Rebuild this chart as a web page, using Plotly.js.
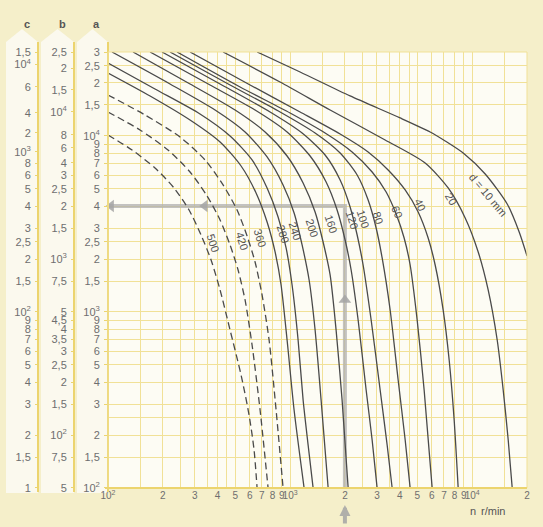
<!DOCTYPE html>
<html><head><meta charset="utf-8">
<script src="https://cdn.plot.ly/plotly-3.0.1.min.js"></script>
<style>html,body{margin:0;padding:0;background:#f5efca;}</style>
</head><body>
<div id="chart" style="width:543px;height:527px;"></div>
<script>
// ---------- data ----------
const diameters = [10, 20, 40, 60, 80, 100, 120, 160, 200, 240, 280, 360, 420, 500];
const n_d10  = [659, 1135, 2136, 4021, 5877, 7107, 8925, 11790, 15570, 18120, 20000];
const a_d10  = [30000, 23100, 16880, 12660, 10540, 9370, 8006, 6084, 4108, 2848, 2081];
const n_d20  = [428.5, 881, 1659, 3327, 5517, 7381, 9152, 10790, 12240, 13720, 14800, 15770, 16590];
const a_d20  = [30000, 20270, 14050, 9490, 7024, 5064, 3421, 2193, 1334, 693, 360.5, 187.4, 100];
const n_d40  = [282.2, 602.9, 1135, 1883, 2683, 3455, 4286, 5050, 5731, 6262, 6930, 7475, 7962, 8377];
const a_d40  = [30000, 19490, 13690, 10260, 8110, 6410, 4934, 3700, 2633, 1849, 1026, 533.7, 243.4, 100];
const n_d60  = [239.4, 531.4, 1000, 1557, 2191, 2822, 3369, 3823, 4230, 4564, 4987, 5447, 6029];
const a_d60  = [30000, 18980, 13510, 10400, 8110, 6245, 4807, 3604, 2633, 1849, 900.6, 360.5, 100];
const n_d80  = [219.1, 468.1, 881.2, 1372, 1883, 2335, 2683, 2969, 3203, 3544, 3921, 4286, 4564];
const a_d80  = [30000, 19490, 13690, 10400, 8006, 6003, 4329, 3001, 2027, 1026, 410.8, 187.4, 100];
const n_d100 = [198, 412.6, 776.5, 1164, 1557, 1883, 2136, 2335, 2518, 2787, 3123, 3412, 3635];
const a_d100 = [30000, 19750, 13690, 10400, 7798, 5623, 3950, 2738, 1849, 900.6, 360.5, 175.5, 100];
const n_d120 = [170.2, 363.5, 642.2, 962.7, 1288, 1577, 1812, 2005, 2164, 2364, 2616, 2822, 3006];
const a_d120 = [30000, 19490, 14050, 10540, 7697, 5478, 3798, 2565, 1732, 900.6, 360.5, 187.4, 100];
const n_d160 = [137.2, 282.2, 498.8, 729, 962.7, 1179, 1372, 1518, 1659, 1789, 1930, 2084];
const a_d160 = [30000, 19750, 14050, 10540, 7697, 5408, 3700, 2499, 1623, 790.2, 316.2, 100];
const n_d200 = [105.2, 219.1, 387.3, 565.9, 747.6, 915.1, 1052, 1164, 1272, 1372, 1480, 1618];
const a_d200 = [30000, 19750, 14050, 10540, 7598, 5268, 3652, 2403, 1520, 790.2, 316.2, 100];
const n_d240 = [100, 181.2, 320.2, 468.1, 618.3, 747.6, 859.2, 950.6, 1025.6, 1106.5, 1179, 1256, 1338];
const a_d240 = [25990, 18490, 13340, 10000, 7304, 5064, 3466, 2310, 1423, 693.4, 316.2, 175.5, 100];
const n_d280 = [100, 170.2, 282.2, 412.6, 538.1, 650.4, 747.6, 827.2, 892.3, 962.7, 1051.9, 1194];
const a_d280 = [22800, 16880, 12330, 9245, 6752, 4745, 3246, 2193, 1423, 693.4, 277.5, 100];
const n_d360 = [100, 159.7, 248.6, 341.2, 428.5, 511.6, 580.4, 642.2, 701.7, 766.8, 837.7, 915.1];
const a_d360 = [17100, 13160, 9870, 7304, 5268, 3798, 2703, 1923, 1249, 693.4, 277.5, 100];
const n_d420 = [100, 149.9, 213.6, 282.2, 349.9, 412.6, 468.1, 518.1, 565.9, 618.3, 684.2, 757.1];
const a_d420 = [13690, 10820, 8325, 6245, 4562, 3332, 2403, 1732, 1170, 649.3, 277.5, 100];
const n_d500 = [100, 135.5, 181.2, 230.5, 278.7, 324.3, 368.2, 412.6, 468.1, 538.1, 595.3, 634.2, 658.7];
const a_d500 = [10130, 8325, 6579, 5064, 3798, 2738, 1975, 1334, 790.2, 438.5, 259.8, 164.4, 100];

const curveN = [n_d10, n_d20, n_d40, n_d60, n_d80, n_d100, n_d120, n_d160, n_d200, n_d240, n_d280, n_d360, n_d420, n_d500];
const curveA = [a_d10, a_d20, a_d40, a_d60, a_d80, a_d100, a_d120, a_d160, a_d200, a_d240, a_d280, a_d360, a_d420, a_d500];
const dashedFrom = 360;

const labelText = ['d = 10 mm', '20', '40', '60', '80', '100', '120', '160', '200', '240', '280', '360', '420', '500'];
const labelN = [12240, 7666, 5181, 3872, 3045, 2518, 2191, 1680, 1321, 1065, 915.1, 684.2, 544.7, 377.5];
const labelA = [4622, 4385, 4055, 3700, 3421, 3376, 3332, 3162, 3001, 2886, 2775, 2633, 2532, 2466];
const labelAngle = [50, 60, 65, 68, 72, 72, 72, 72, 72, 72, 72, 72, 72, 72];

const xTickVals = [100,200,300,400,500,600,700,800,900,1000,2000,3000,4000,5000,6000,7000,8000,9000,10000,19990];
const xTickText = ['10<sup>2</sup>','2','3','4','5','6','7','8','9','10<sup>3</sup>','2','3','4','5','6','7','8','9','10<sup>4</sup>','2'];
const xMinorVals = [150,250,350,450,1500,2500,3500,4500,15000];

const aTickVals = [100.2,150,200,300,400,500,600,700,800,900,1000,1500,2000,2500,3000,4000,5000,6000,7000,8000,9000,10000,15000,20000,25000,29900];
const aTickText = ['10<sup>2</sup>','1,5','2','3','4','5','6','7','8','9','10<sup>3</sup>','1,5','2','2,5','3','4','5','6','7','8','9','10<sup>4</sup>','1,5','2','2,5','3'];
const aMinorVals = [250];

const bTickVals = [100.2,150,200,300,400,500,600,700,800,900,1000,1500,2000,3000,4000,5000,6000,7024,8546,10130,13690,18250,24330,29900];
const bTickText = ['5','7,5','10<sup>2</sup>','1,5','2','2,5','3','3,5','4','4,5','5','7,5','10<sup>3</sup>','1,5','2','2,5','3','4','6','8','10<sup>4</sup>','1,5','2','2,5'];

const cTickVals = [100.2,150,200,300,400,500,600,700,800,900,1000,1500,2000,2500,3000,4000,5000,6000,7020,8110,10400,13510,18990,25500,29900];
const cTickText = ['1','1,5','2','3','4','5','6','7','8','9','10<sup>2</sup>','1,5','2','2,5','3','4','5','6','8','10<sup>3</sup>','2','4','6','10<sup>4</sup>','1,5'];

// worked example (n = 2000 r/min -> a = 4000)
const exampleN = 2000, exampleA = 4000;
const arrowN = [2000, 340, 104];
const arrowA = [1170, 4000, 4000];

// ---------- layout helpers (pixels -> paper) ----------
const W = 543, H = 527, ML = 0, MR = 16, MT = 52, MB = 39;
const PW = W - ML - MR, PH = H - MT - MB;
const px = x => (x - ML) / PW;
const py = y => (H - MB - y) / PH;

const GRID = '#f1e197', AXIS = '#ecd46e', TXT = '#6e6e6e', CURVE = '#4a4a4a';
const GRAY = 'rgba(165,165,165,0.85)';
const FONT = 'Liberation Sans, Arial, sans-serif';

const traces = [];
traces.push({x:[exampleN, exampleN, 100], y:[100, exampleA, exampleA], mode:'lines',
  line:{color:'rgba(175,175,175,0.75)', width:4}, hoverinfo:'skip', showlegend:false});
traces.push({x:arrowN, y:arrowA, mode:'markers', cliponaxis:false,
  marker:{symbol:['triangle-up','triangle-left','triangle-left'], size:11, color:GRAY},
  hoverinfo:'skip', showlegend:false});

diameters.forEach((d, i) => {
  traces.push({x:curveN[i], y:curveA[i], mode:'lines', name:'d='+d,
    line:{color:CURVE, width:1.3, shape:'spline', smoothing:0.7, dash: d >= dashedFrom ? '7px,4px' : 'solid'},
    hoverinfo:'skip', showlegend:false});
});
traces.push({x:[1000], y:[1000], yaxis:'y2', mode:'markers', marker:{opacity:0}, hoverinfo:'skip', showlegend:false});
traces.push({x:[1000], y:[1000], yaxis:'y3', mode:'markers', marker:{opacity:0}, hoverinfo:'skip', showlegend:false});

const annotations = labelText.map((t, i) => ({
  x: Math.log10(labelN[i]), y: Math.log10(labelA[i]), xref:'x', yref:'y',
  text:t, showarrow:false, textangle:labelAngle[i],
  font:{family:FONT, size:11, color:'#555'}
}));
[['c',22],['b',57],['a',91]].forEach(([t, x]) => annotations.push({
  x:px(x), y:py(16), xref:'paper', yref:'paper', text:'<b>'+t+'</b>', showarrow:false,
  font:{family:FONT, size:11, color:'#555'}
}));
annotations.push({x:px(478), y:py(519), xref:'paper', yref:'paper', text:'n', showarrow:false,
  font:{family:FONT, size:11, color:'#555'}});
annotations.push({x:px(507), y:py(519), xref:'paper', yref:'paper', text:'r/min', showarrow:false,
  font:{family:FONT, size:11, color:'#555'}});
annotations.push({x:Math.log10(exampleN), xref:'x', y:py(505), yref:'paper', text:'', showarrow:true,
  ax:0, ay:20, arrowhead:2, arrowsize:0.55, arrowwidth:4, arrowcolor:GRAY});

const band = (l, r) => {
  const c = (l + r) / 2;
  return {type:'path', xref:'paper', yref:'paper', layer:'below',
    path:`M${px(l)},${py(493)} L${px(l)},${py(42)} L${px(c)},${py(29)} L${px(r)},${py(42)} L${px(r)},${py(493)} Z`,
    fillcolor:'#fbf9ee', line:{width:0}};
};
const vline = (x) => ({type:'line', xref:'paper', yref:'paper', x0:px(x), x1:px(x), y0:py(42), y1:py(492),
  line:{color:AXIS, width:2}});
const shapes = [band(6, 38), band(41, 74), band(77, 108), vline(38), vline(74), vline(108),
  {type:'rect', xref:'paper', yref:'paper', x0:px(108), x1:1, y0:0, y1:1, line:{color:GRID, width:1}},
  {type:'line', xref:'paper', yref:'paper', x0:px(105), x1:1, y0:0, y1:0, line:{color:AXIS, width:2}}];

const yCommon = {type:'log', range:[2, Math.log10(30000)], showline:false, zeroline:false,
  ticks:'outside', ticklen:3, tickcolor:AXIS, ticklabelstandoff:2,
  tickfont:{family:FONT, size:11, color:TXT}, fixedrange:true};

const layout = {
  width:W, height:H, margin:{l:ML, r:MR, t:MT, b:MB, pad:0},
  paper_bgcolor:'#f5efca', plot_bgcolor:'#fdfcf4', showlegend:false,
  font:{family:FONT, size:11, color:TXT},
  xaxis:{type:'log', domain:[px(108), 1], range:[2, Math.log10(20000)], tickmode:'array',
    tickvals:xTickVals, ticktext:xTickText, tickangle:0, showgrid:true, gridcolor:GRID, gridwidth:1,
    minor:{tickvals:xMinorVals, showgrid:true, gridcolor:GRID, gridwidth:1, ticks:''},
    showline:false, zeroline:false, ticks:'', tickfont:{family:FONT, size:10, color:TXT}, fixedrange:true},
  yaxis:Object.assign({}, yCommon, {tickmode:'array', tickvals:aTickVals, ticktext:aTickText,
    showgrid:true, gridcolor:GRID, gridwidth:1,
    minor:{tickvals:aMinorVals, showgrid:true, gridcolor:GRID, gridwidth:1, ticks:''}}),
  yaxis2:Object.assign({}, yCommon, {overlaying:'y', anchor:'free', position:px(74), side:'left',
    tickmode:'array', tickvals:bTickVals, ticktext:bTickText, showgrid:false}),
  yaxis3:Object.assign({}, yCommon, {overlaying:'y', anchor:'free', position:px(38), side:'left',
    tickmode:'array', tickvals:cTickVals, ticktext:cTickText, showgrid:false}),
  annotations:annotations, shapes:shapes
};

Plotly.newPlot('chart', traces, layout, {staticPlot:true, displayModeBar:false});
</script>
</body></html>
